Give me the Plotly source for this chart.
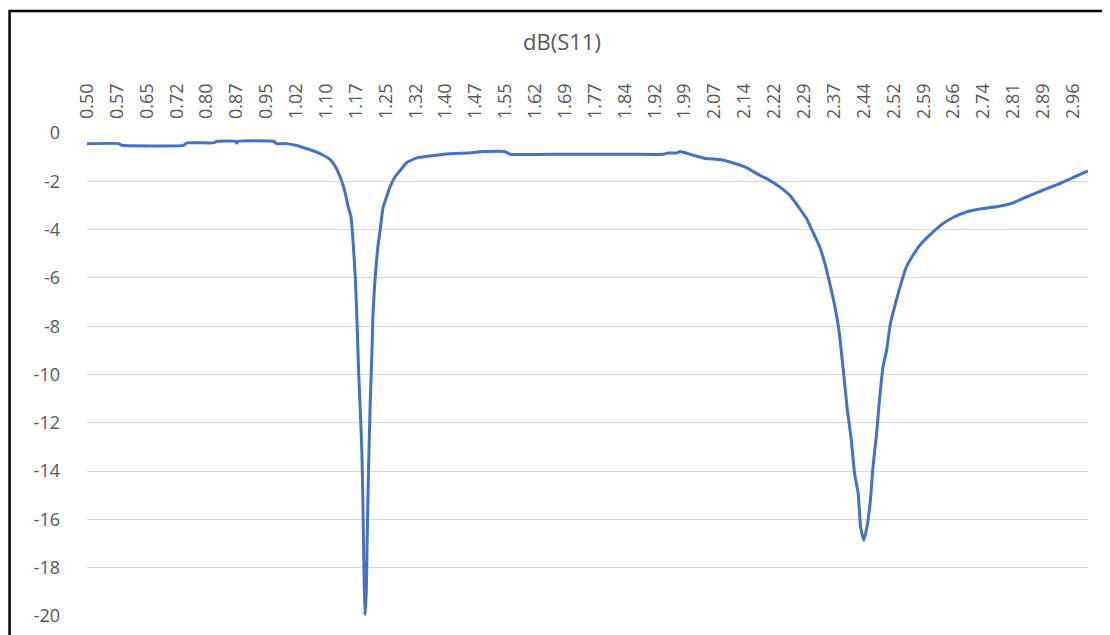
import plotly.graph_objects as go

# Frequency (GHz) and dB(S11)
freq = [0.500, 0.579, 0.587, 0.741, 0.750, 0.816, 0.825, 0.870, 0.874, 0.878,
        0.966, 0.974, 0.999, 1.024, 1.049, 1.074, 1.090, 1.1075, 1.1156, 1.1243,
        1.1407, 1.1532, 1.1592, 1.1642, 1.1699, 1.1742, 1.1782, 1.1824, 1.1866, 1.1891,
        1.1916, 1.1941, 1.1974, 1.1999, 1.2031, 1.2073, 1.2116, 1.2140, 1.2198, 1.2265,
        1.2323, 1.2390, 1.2473, 1.2572, 1.2697, 1.2822, 1.2989, 1.3239, 1.3570, 1.4070,
        1.4486, 1.4900, 1.5440, 1.5570, 1.6900, 1.8570, 1.9390, 1.9500, 1.9730, 1.9810,
        2.0140, 2.0470, 2.0810, 2.1140, 2.1470, 2.1800, 2.2050, 2.2300, 2.2550, 2.2800,
        2.2970, 2.3130, 2.3300, 2.3430, 2.3550, 2.3680, 2.3780, 2.3880, 2.3990, 2.4090,
        2.4170, 2.4260, 2.4320, 2.4400, 2.4480, 2.4566, 2.4630, 2.4720, 2.4800, 2.4880,
        2.4970, 2.5065, 2.5170, 2.5300, 2.5465, 2.5630, 2.5800, 2.6046, 2.6380, 2.6630,
        2.6960, 2.7380, 2.7790, 2.8120, 2.8460, 2.8870, 2.9290, 2.9620, 3.0000]

s11_db = [-0.44, -0.44, -0.51, -0.51, -0.41, -0.41, -0.34, -0.34, -0.42, -0.34,
          -0.34, -0.44, -0.44, -0.52, -0.65, -0.79, -0.92, -1.10, -1.27, -1.52,
          -2.21, -3.11, -3.45, -4.42, -5.94, -7.73, -9.80, -11.46, -13.26, -15.33,
          -18.10, -19.96, -19.06, -16.70, -13.95, -11.19, -9.12, -7.60, -5.94, -4.70,
          -4.00, -3.11, -2.69, -2.21, -1.80, -1.55, -1.22, -1.03, -0.95, -0.86,
          -0.83, -0.77, -0.77, -0.88, -0.88, -0.88, -0.88, -0.83, -0.83, -0.77,
          -0.92, -1.06, -1.10, -1.24, -1.43, -1.75, -1.96, -2.23, -2.58, -3.13,
          -3.54, -4.10, -4.72, -5.41, -6.23, -7.20, -8.17, -9.68, -11.48, -12.72,
          -14.10, -14.92, -16.30, -16.86, -16.30, -15.20, -13.82, -12.44, -10.92, -9.68,
          -8.99, -7.89, -7.20, -6.40, -5.54, -5.06, -4.65, -4.23, -3.75, -3.50,
          -3.27, -3.13, -3.03, -2.90, -2.65, -2.37, -2.10, -1.85, -1.57]

x_tick_labels = ["0.50", "0.57", "0.65", "0.72", "0.80", "0.87", "0.95", "1.02", "1.10",
                 "1.17", "1.25", "1.32", "1.40", "1.47", "1.55", "1.62", "1.69", "1.77",
                 "1.84", "1.92", "1.99", "2.07", "2.14", "2.22", "2.29", "2.37", "2.44",
                 "2.52", "2.59", "2.66", "2.74", "2.81", "2.89", "2.96"]
x_tick_step = 0.07463
x_tick_vals = [0.5 + i * x_tick_step for i in range(len(x_tick_labels))]

y_tick_vals = [0, -2, -4, -6, -8, -10, -12, -14, -16, -18, -20]
y_tick_labels = ["0", "-2", "-4", "-6", "-8", "-10", "-12", "-14", "-16", "-18", "-20"]

title_text = "dB(S11)"

TEXT = "#595959"
GRID = "#d9d9d9"
FONT = "Open Sans"

fig = go.Figure()
fig.add_trace(go.Scatter(
    x=freq, y=s11_db, mode="lines",
    line=dict(color="#4472C4", width=3, shape="spline", smoothing=0.4),
    showlegend=False, hoverinfo="x+y",
))

# page is offset by the 8px default body margin
OFF = 8
W_FIG, H_FIG = 1110, 635
L = 86.5 - OFF
T = 132.7 - OFF
R = W_FIG - (1088.5 - OFF)
B = H_FIG - (616 - OFF)
pw = W_FIG - L - R
ph = H_FIG - T - B

fig.update_layout(
    width=W_FIG, height=H_FIG,
    margin=dict(l=L, r=R, t=T, b=B, pad=0),
    paper_bgcolor="white", plot_bgcolor="white",
    font=dict(family=FONT, color=TEXT),
    title=dict(text=title_text, x=(562 - OFF) / W_FIG, xref="container", xanchor="center",
               y=1 - (42 - OFF) / H_FIG, yref="container", yanchor="middle",
               font=dict(size=22, color=TEXT, family=FONT)),
    xaxis=dict(
        side="top", range=[0.5, 3.0], tickmode="array",
        tickvals=x_tick_vals, ticktext=x_tick_labels, tickangle=-90,
        tickfont=dict(size=18, color=TEXT, family=FONT),
        showgrid=False, zeroline=False, showline=False, ticks="",
        ticklabelstandoff=13,
    ),
    yaxis=dict(
        range=[-20, 0], tickmode="array", tickvals=y_tick_vals, ticktext=y_tick_labels,
        tickfont=dict(size=18, color=TEXT, family=FONT),
        showgrid=True, gridcolor=GRID, gridwidth=1,
        zeroline=False, showline=False, ticks="",
        ticklabelstandoff=26,
    ),
    shapes=[dict(
        type="rect", xref="paper", yref="paper", layer="above",
        x0=(1 - L) / pw, x1=(1140 - L) / pw,
        y0=-(80) / ph, y1=1 + (T - 2.5) / ph,
        line=dict(color="black", width=2.5), fillcolor="rgba(0,0,0,0)",
    )],
)

fig.write_html("out.html")
